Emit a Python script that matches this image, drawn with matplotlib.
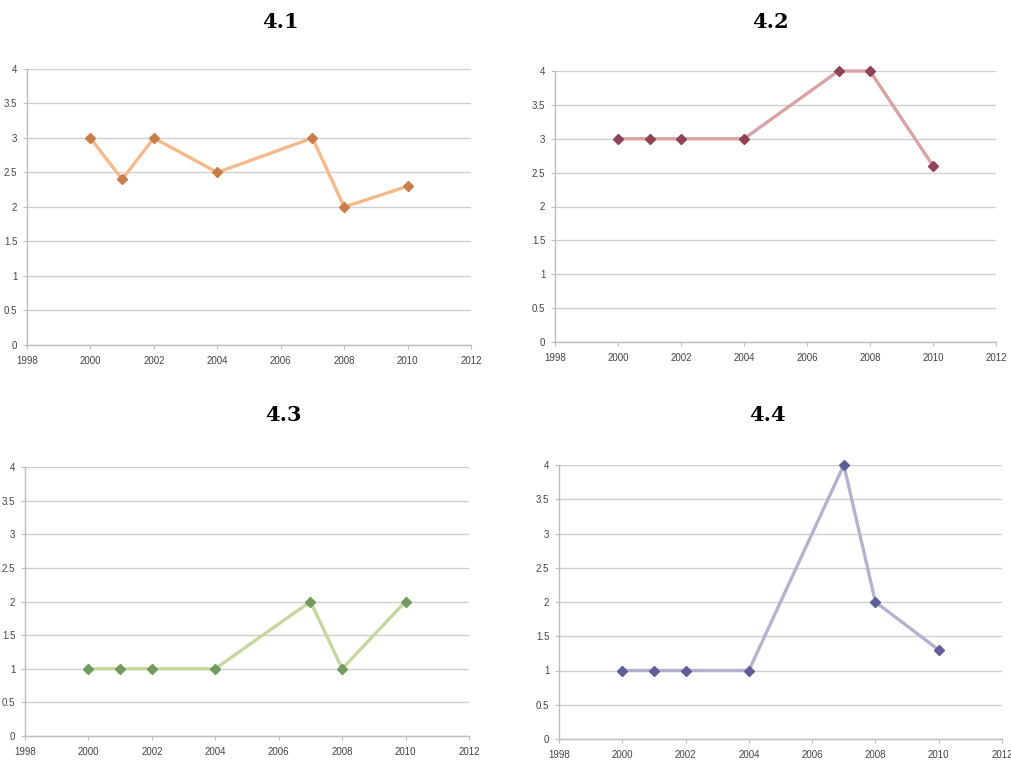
import matplotlib
matplotlib.use("Agg")
from matplotlib import pyplot as plt

years = [2000, 2001, 2002, 2004, 2007, 2008, 2010]

values_41 = [3, 2.4, 3, 2.5, 3, 2, 2.3]
values_42 = [3, 3, 3, 3, 4, 4, 2.6]
values_43 = [1, 1, 1, 1, 2, 1, 2]
values_44 = [1, 1, 1, 1, 4, 2, 1.3]

titles = ["4.1", "4.2", "4.3", "4.4"]
series = [values_41, values_42, values_43, values_44]
line_colors = ["#F5B98C", "#D9A3A3", "#C5D79E", "#B4B2CF"]
marker_colors = ["#C77E4A", "#8E4454", "#6F9B5E", "#5E5E98"]

x_ticks = [1998, 2000, 2002, 2004, 2006, 2008, 2010, 2012]
y_ticks = [0, 0.5, 1, 1.5, 2, 2.5, 3, 3.5, 4]

W, H = 1011, 761
# axes boxes in pixels: left, top, right, bottom
boxes = [(27, 69, 471, 345), (555, 71, 996, 342),
         (25, 467, 469, 736), (559, 465, 1002, 739)]
title_pos = [(280, 22), (770, 22), (283, 415), (767, 415)]

fig = plt.figure(figsize=(W / 100, H / 100), dpi=100)

for i in range(4):
    l, t, r, b = boxes[i]
    ax = fig.add_axes([l / W, 1 - b / H, (r - l) / W, (b - t) / H])
    ax.plot(years, series[i], color=line_colors[i], linewidth=2.4, zorder=3,
            marker="D", markersize=5.5, markerfacecolor=marker_colors[i],
            markeredgecolor=marker_colors[i], clip_on=False)
    ax.set_xlim(1998, 2012)
    ax.set_ylim(0, 4)
    ax.set_xticks(x_ticks)
    ax.set_yticks(y_ticks)
    ax.set_yticklabels([("%g" % v) for v in y_ticks])
    ax.grid(axis="y", color="#CFCFCF", linewidth=1.0)
    ax.set_axisbelow(True)
    for s in ["top", "right"]:
        ax.spines[s].set_visible(False)
    for s in ["left", "bottom"]:
        ax.spines[s].set_color("#BDBDBD")
        ax.spines[s].set_linewidth(1.0)
    ax.tick_params(axis="both", labelsize=7, colors="#BDBDBD", length=3,
                   width=0.8, labelcolor="#444444")
    ax.tick_params(axis="x", pad=5)
    ax.tick_params(axis="y", pad=4)
    for lab in ax.get_xticklabels() + ax.get_yticklabels():
        lab.set_family("Liberation Sans")
    tx, ty = title_pos[i]
    fig.text(tx / W, 1 - ty / H, titles[i], ha="center", va="center",
             fontsize=15, fontweight="bold", family="DejaVu Serif")

fig.savefig("out.png", dpi=100)
